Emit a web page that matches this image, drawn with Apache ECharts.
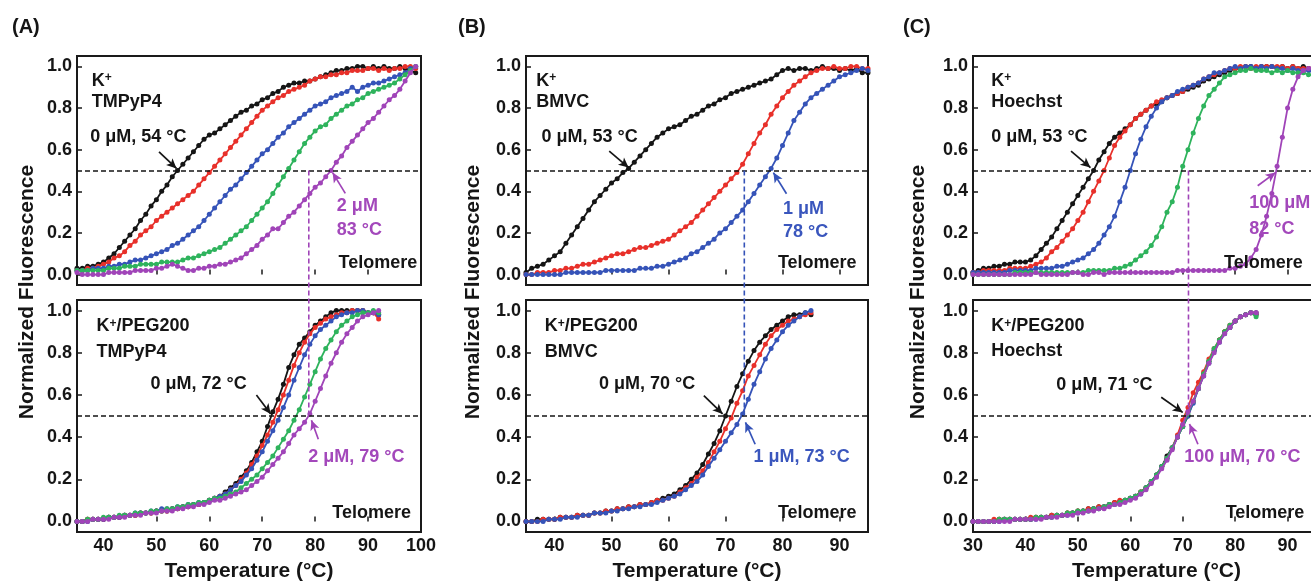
<!DOCTYPE html>
<html>
<head>
<meta charset="utf-8">
<script src="https://cdn.jsdelivr.net/npm/echarts@6/dist/echarts.min.js"></script>
<style>
  html, body { margin: 0; padding: 0; background: #fff; }
  #main { width: 1311px; height: 583px; }
</style>
</head>
<body>
<div id="main"></div>
<script>
// ---- temperatures (°C) ----
const tempA = [35,36,37,38,39,40,41,42,43,44,45,46,47,48,49,50,51,52,53,54,55,56,57,58,59,60,61,62,63,64,65,66,67,68,69,70,71,72,73,74,75,76,77,78,79,80,81,82,83,84,85,86,87,88,89,90,91,92,93,94,95,96,97,98,99];
const tempAPeg = [35,36,37,38,39,40,41,42,43,44,45,46,47,48,49,50,51,52,53,54,55,56,57,58,59,60,61,62,63,64,65,66,67,68,69,70,71,72,73,74,75,76,77,78,79,80,81,82,83,84,85,86,87,88,89,90,91,92];
const tempB = [35,36,37,38,39,40,41,42,43,44,45,46,47,48,49,50,51,52,53,54,55,56,57,58,59,60,61,62,63,64,65,66,67,68,69,70,71,72,73,74,75,76,77,78,79,80,81,82,83,84,85,86,87,88,89,90,91,92,93,94,95];
const tempBPeg = [35,36,37,38,39,40,41,42,43,44,45,46,47,48,49,50,51,52,53,54,55,56,57,58,59,60,61,62,63,64,65,66,67,68,69,70,71,72,73,74,75,76,77,78,79,80,81,82,83,84,85];
const tempC = [30,31,32,33,34,35,36,37,38,39,40,41,42,43,44,45,46,47,48,49,50,51,52,53,54,55,56,57,58,59,60,61,62,63,64,65,66,67,68,69,70,71,72,73,74,75,76,77,78,79,80,81,82,83,84,85,86,87,88,89,90,91,92,93,94,95];
const tempCPeg = [30,31,32,33,34,35,36,37,38,39,40,41,42,43,44,45,46,47,48,49,50,51,52,53,54,55,56,57,58,59,60,61,62,63,64,65,66,67,68,69,70,71,72,73,74,75,76,77,78,79,80,81,82,83,84];

// ---- (A) K+ / TMPyP4 ----
const aTopBlack = [0.03,0.03,0.04,0.04,0.05,0.06,0.08,0.10,0.13,0.16,0.19,0.22,0.26,0.29,0.33,0.36,0.40,0.43,0.47,0.50,0.53,0.56,0.59,0.62,0.65,0.67,0.68,0.70,0.72,0.74,0.76,0.78,0.79,0.81,0.82,0.84,0.85,0.87,0.88,0.90,0.91,0.92,0.92,0.93,0.93,0.94,0.95,0.96,0.97,0.98,0.98,0.99,0.99,1.00,1.00,0.99,1.00,0.99,1.00,0.99,0.99,1.00,0.99,0.98,0.97];
const aTopRed = [0.02,0.02,0.03,0.03,0.04,0.05,0.06,0.08,0.09,0.11,0.14,0.16,0.19,0.21,0.23,0.26,0.28,0.30,0.32,0.34,0.36,0.38,0.40,0.43,0.46,0.49,0.52,0.55,0.58,0.61,0.64,0.67,0.70,0.73,0.76,0.79,0.81,0.83,0.85,0.86,0.88,0.89,0.90,0.91,0.93,0.94,0.95,0.95,0.96,0.96,0.97,0.97,0.98,0.98,0.98,0.99,0.99,0.98,0.99,0.98,0.99,0.99,1.00,1.00,0.99];
const aTopBlue = [0.02,0.02,0.02,0.03,0.03,0.03,0.04,0.04,0.05,0.05,0.06,0.07,0.07,0.08,0.09,0.10,0.11,0.12,0.14,0.15,0.17,0.19,0.21,0.23,0.26,0.29,0.32,0.35,0.38,0.41,0.43,0.46,0.49,0.52,0.55,0.58,0.60,0.63,0.66,0.68,0.71,0.73,0.75,0.77,0.79,0.81,0.82,0.83,0.85,0.86,0.87,0.88,0.90,0.88,0.90,0.91,0.92,0.92,0.93,0.94,0.95,0.96,0.97,0.99,1.00];
const aTopGreen = [0.02,0.02,0.02,0.02,0.02,0.02,0.03,0.03,0.03,0.04,0.04,0.04,0.05,0.05,0.05,0.05,0.06,0.06,0.06,0.06,0.07,0.08,0.08,0.09,0.10,0.11,0.12,0.13,0.15,0.17,0.19,0.21,0.23,0.26,0.29,0.32,0.35,0.39,0.43,0.47,0.51,0.55,0.59,0.63,0.66,0.69,0.71,0.72,0.75,0.77,0.79,0.81,0.82,0.84,0.85,0.87,0.88,0.89,0.90,0.91,0.92,0.94,0.96,0.98,1.00];
const aTopPurple = [0.01,0.00,0.00,0.00,0.00,0.00,0.01,0.01,0.01,0.01,0.01,0.02,0.02,0.02,0.02,0.03,0.03,0.04,0.05,0.04,0.03,0.02,0.02,0.03,0.03,0.04,0.04,0.05,0.05,0.06,0.07,0.08,0.10,0.12,0.14,0.17,0.19,0.22,0.22,0.25,0.28,0.30,0.33,0.36,0.39,0.42,0.44,0.47,0.50,0.54,0.57,0.61,0.64,0.67,0.70,0.73,0.75,0.78,0.81,0.84,0.86,0.89,0.93,0.97,1.00];

// ---- (A) K+/PEG200 / TMPyP4 ----
const aPegBlack = [0.00,0.00,0.01,0.01,0.01,0.01,0.02,0.02,0.02,0.03,0.03,0.03,0.04,0.04,0.04,0.05,0.05,0.05,0.06,0.06,0.07,0.07,0.08,0.08,0.09,0.10,0.11,0.12,0.14,0.16,0.18,0.21,0.24,0.28,0.33,0.38,0.45,0.52,0.58,0.65,0.73,0.79,0.84,0.87,0.90,0.93,0.95,0.97,0.99,1.00,1.00,1.00,1.00,1.00,1.00,0.99,0.99,0.98];
const aPegRed = [0.00,0.00,0.01,0.01,0.01,0.01,0.02,0.02,0.02,0.03,0.03,0.03,0.04,0.04,0.04,0.05,0.05,0.05,0.06,0.06,0.07,0.07,0.08,0.08,0.09,0.10,0.11,0.12,0.13,0.15,0.17,0.20,0.23,0.27,0.31,0.36,0.41,0.47,0.53,0.60,0.67,0.74,0.80,0.85,0.89,0.92,0.94,0.96,0.97,0.98,0.99,0.99,1.00,1.00,1.00,0.99,0.99,0.96];
const aPegBlue = [0.00,0.00,0.00,0.01,0.01,0.01,0.02,0.02,0.02,0.03,0.03,0.04,0.04,0.04,0.05,0.05,0.06,0.06,0.06,0.07,0.07,0.08,0.08,0.09,0.09,0.10,0.11,0.12,0.13,0.15,0.17,0.19,0.22,0.25,0.29,0.33,0.38,0.43,0.48,0.54,0.60,0.67,0.73,0.79,0.84,0.88,0.91,0.93,0.95,0.97,0.98,0.99,0.99,1.00,1.00,0.99,0.99,0.98];
const aPegGreen = [0.00,0.00,0.01,0.01,0.01,0.02,0.02,0.02,0.03,0.03,0.03,0.04,0.04,0.04,0.05,0.05,0.05,0.06,0.06,0.07,0.07,0.08,0.08,0.09,0.09,0.10,0.11,0.11,0.12,0.13,0.14,0.16,0.18,0.20,0.22,0.25,0.28,0.31,0.35,0.39,0.43,0.48,0.53,0.59,0.65,0.71,0.77,0.82,0.86,0.90,0.93,0.95,0.97,0.98,0.99,0.99,1.00,0.99];
const aPegPurple = [0.00,0.00,0.00,0.01,0.01,0.01,0.01,0.02,0.02,0.02,0.03,0.03,0.03,0.04,0.04,0.04,0.05,0.05,0.05,0.06,0.06,0.07,0.07,0.08,0.08,0.09,0.10,0.10,0.11,0.12,0.13,0.14,0.15,0.17,0.19,0.21,0.24,0.27,0.30,0.33,0.37,0.41,0.44,0.47,0.51,0.57,0.63,0.69,0.75,0.80,0.85,0.89,0.92,0.95,0.97,0.98,0.99,1.00];

// ---- (B) K+ / BMVC ----
const bTopBlack = [0.01,0.03,0.04,0.05,0.07,0.09,0.11,0.15,0.19,0.23,0.27,0.31,0.35,0.38,0.41,0.44,0.46,0.49,0.51,0.54,0.57,0.60,0.63,0.66,0.68,0.70,0.71,0.72,0.74,0.76,0.77,0.79,0.81,0.82,0.84,0.85,0.87,0.88,0.89,0.90,0.91,0.92,0.93,0.94,0.96,0.98,0.99,0.98,0.99,0.99,0.98,0.99,1.00,0.99,0.99,0.98,0.99,0.98,0.99,0.97,0.97];
const bTopRed = [0.00,0.00,0.01,0.01,0.01,0.02,0.02,0.03,0.03,0.04,0.05,0.05,0.06,0.07,0.08,0.09,0.10,0.10,0.11,0.12,0.13,0.13,0.14,0.15,0.16,0.17,0.19,0.21,0.23,0.25,0.28,0.31,0.34,0.37,0.40,0.43,0.46,0.49,0.53,0.58,0.63,0.68,0.72,0.77,0.81,0.85,0.88,0.91,0.93,0.95,0.97,0.98,0.99,0.99,1.00,0.99,0.99,1.00,1.00,0.99,0.99];
const bTopBlue = [0.00,0.00,0.00,0.00,0.00,0.00,0.00,0.01,0.01,0.01,0.01,0.01,0.01,0.01,0.02,0.02,0.02,0.02,0.02,0.02,0.03,0.03,0.03,0.04,0.04,0.05,0.06,0.07,0.08,0.10,0.11,0.13,0.15,0.17,0.20,0.22,0.25,0.28,0.31,0.35,0.39,0.43,0.47,0.51,0.56,0.62,0.68,0.74,0.78,0.82,0.85,0.87,0.89,0.91,0.93,0.95,0.96,0.97,0.98,0.99,0.98];

// ---- (B) K+/PEG200 / BMVC ----
const bPegBlack = [0.00,0.00,0.01,0.01,0.01,0.01,0.02,0.02,0.02,0.03,0.03,0.03,0.04,0.04,0.05,0.05,0.06,0.06,0.07,0.07,0.08,0.08,0.09,0.10,0.11,0.12,0.13,0.15,0.17,0.20,0.23,0.27,0.32,0.37,0.43,0.50,0.57,0.64,0.70,0.76,0.81,0.85,0.88,0.91,0.93,0.95,0.97,0.98,0.98,0.99,0.98];
const bPegRed = [0.00,0.00,0.00,0.01,0.01,0.01,0.02,0.02,0.02,0.03,0.03,0.03,0.04,0.04,0.05,0.05,0.06,0.06,0.07,0.07,0.08,0.08,0.09,0.10,0.10,0.11,0.12,0.14,0.16,0.18,0.21,0.24,0.28,0.33,0.38,0.44,0.49,0.56,0.62,0.69,0.74,0.79,0.84,0.88,0.91,0.93,0.95,0.96,0.97,0.98,0.99];
const bPegBlue = [0.00,0.00,0.00,0.00,0.01,0.01,0.01,0.02,0.02,0.02,0.03,0.03,0.04,0.04,0.04,0.05,0.05,0.06,0.06,0.07,0.07,0.08,0.08,0.09,0.10,0.11,0.12,0.13,0.15,0.17,0.19,0.22,0.26,0.30,0.34,0.38,0.42,0.46,0.51,0.58,0.65,0.71,0.77,0.82,0.86,0.90,0.93,0.95,0.97,0.99,1.00];

// ---- (C) K+ / Hoechst ----
const cTopBlack = [0.01,0.02,0.03,0.03,0.04,0.04,0.05,0.05,0.06,0.06,0.06,0.07,0.09,0.12,0.15,0.18,0.22,0.26,0.30,0.34,0.38,0.42,0.46,0.50,0.55,0.59,0.63,0.66,0.68,0.70,0.72,0.75,0.77,0.79,0.81,0.82,0.83,0.85,0.86,0.87,0.88,0.89,0.90,0.91,0.93,0.94,0.95,0.96,0.97,0.98,0.99,0.99,1.00,1.00,0.99,1.00,1.00,1.00,0.99,1.00,0.99,1.00,0.99,1.00,0.99,0.99];
const cTopRed = [0.01,0.01,0.02,0.02,0.02,0.02,0.02,0.03,0.03,0.03,0.03,0.04,0.05,0.06,0.08,0.11,0.13,0.16,0.19,0.22,0.26,0.30,0.35,0.40,0.45,0.50,0.56,0.62,0.66,0.69,0.72,0.75,0.77,0.79,0.81,0.83,0.84,0.85,0.86,0.87,0.88,0.90,0.91,0.92,0.94,0.95,0.96,0.97,0.98,0.99,0.99,1.00,1.00,0.99,1.00,1.00,1.00,1.00,1.00,1.00,0.99,1.00,0.99,0.99,0.99,0.98];
const cTopBlue = [0.01,0.01,0.01,0.01,0.01,0.01,0.01,0.02,0.02,0.02,0.02,0.02,0.03,0.03,0.03,0.03,0.04,0.04,0.05,0.06,0.07,0.08,0.10,0.12,0.15,0.19,0.23,0.28,0.35,0.42,0.50,0.58,0.65,0.71,0.76,0.80,0.83,0.85,0.86,0.88,0.89,0.90,0.91,0.92,0.94,0.95,0.97,0.97,0.98,0.99,1.00,0.99,1.00,1.00,0.99,1.00,0.99,1.00,0.99,0.99,0.98,0.99,0.98,0.98,0.98,0.97];
const cTopGreen = [0.00,0.00,0.00,0.00,0.00,0.00,0.00,0.00,0.01,0.01,0.01,0.01,0.01,0.01,0.01,0.01,0.01,0.01,0.01,0.01,0.01,0.01,0.02,0.02,0.02,0.02,0.02,0.03,0.03,0.04,0.05,0.07,0.09,0.11,0.14,0.18,0.23,0.30,0.35,0.42,0.52,0.60,0.68,0.75,0.81,0.86,0.89,0.92,0.95,0.96,0.97,0.98,0.98,0.99,0.98,0.98,0.98,0.97,0.98,0.97,0.98,0.97,0.97,0.97,0.96,0.96];
const cTopPurple = [0.00,0.00,0.00,0.00,0.00,0.00,0.00,0.00,0.00,0.00,0.00,0.00,0.01,0.00,0.00,0.00,0.00,0.00,0.00,0.01,0.01,0.00,0.00,0.01,0.01,0.00,0.01,0.01,0.01,0.01,0.01,0.01,0.01,0.01,0.01,0.01,0.01,0.01,0.01,0.02,0.02,0.02,0.02,0.02,0.02,0.02,0.02,0.02,0.02,0.03,0.03,0.04,0.05,0.08,0.12,0.19,0.28,0.39,0.52,0.66,0.80,0.89,0.95,0.98,0.99,1.00];

// ---- (C) K+/PEG200 / Hoechst ----
const cPegBlack = [0.00,0.00,0.00,0.00,0.00,0.01,0.01,0.01,0.01,0.01,0.01,0.01,0.02,0.02,0.02,0.03,0.03,0.03,0.04,0.04,0.05,0.05,0.06,0.06,0.07,0.07,0.08,0.09,0.09,0.10,0.11,0.12,0.14,0.16,0.19,0.22,0.26,0.31,0.35,0.40,0.45,0.50,0.57,0.63,0.70,0.76,0.81,0.86,0.90,0.92,0.95,0.97,0.98,0.99,0.98];
const cPegRed = [0.00,0.00,0.00,0.00,0.01,0.01,0.01,0.01,0.01,0.01,0.01,0.02,0.02,0.02,0.02,0.03,0.03,0.03,0.04,0.04,0.05,0.05,0.06,0.06,0.07,0.07,0.08,0.09,0.10,0.10,0.11,0.12,0.14,0.16,0.19,0.22,0.26,0.30,0.35,0.41,0.48,0.54,0.61,0.66,0.71,0.77,0.82,0.86,0.90,0.93,0.95,0.97,0.98,0.99,0.99];
const cPegBlue = [0.00,0.00,0.00,0.00,0.00,0.00,0.01,0.01,0.01,0.01,0.01,0.01,0.01,0.02,0.02,0.02,0.03,0.03,0.03,0.04,0.04,0.05,0.05,0.06,0.06,0.07,0.08,0.08,0.09,0.10,0.11,0.12,0.13,0.16,0.19,0.22,0.26,0.30,0.35,0.40,0.45,0.50,0.56,0.63,0.69,0.75,0.81,0.85,0.89,0.92,0.95,0.97,0.98,0.99,0.99];
const cPegGreen = [0.00,0.00,0.00,0.00,0.00,0.01,0.01,0.01,0.01,0.01,0.01,0.01,0.02,0.02,0.02,0.02,0.03,0.03,0.04,0.04,0.05,0.05,0.05,0.06,0.06,0.07,0.08,0.08,0.09,0.10,0.11,0.12,0.14,0.16,0.19,0.22,0.26,0.30,0.35,0.40,0.45,0.51,0.57,0.63,0.70,0.76,0.82,0.86,0.90,0.93,0.95,0.97,0.98,0.99,0.97];
const cPegPurple = [0.00,0.00,0.00,0.00,0.00,0.00,0.00,0.00,0.01,0.01,0.01,0.01,0.01,0.01,0.02,0.02,0.02,0.03,0.03,0.03,0.04,0.04,0.05,0.05,0.06,0.06,0.07,0.08,0.08,0.09,0.10,0.11,0.13,0.15,0.18,0.21,0.25,0.29,0.34,0.40,0.46,0.52,0.57,0.63,0.69,0.75,0.80,0.85,0.89,0.92,0.95,0.97,0.98,0.99,0.99];

// ---- ticks ----
const yTicks = [0, 0.2, 0.4, 0.6, 0.8, 1.0];
const xTicksA = [40, 50, 60, 70, 80, 90, 100];
const xTicksB = [40, 50, 60, 70, 80, 90];
const xTicksC = [30, 40, 50, 60, 70, 80, 90, 100];

const COL = {
  black: '#151515',
  red: '#e8302a',
  blue: '#3553b8',
  green: '#2eb35c',
  purple: '#a044b8'
};
const TXT_BLUE = '#3a56bd';
const TXT_PURPLE = '#a348bb';
const FONT = '"Liberation Sans", Arial, Helvetica, sans-serif';

function pairs(temps, vals) {
  return temps.map((t, i) => [t, vals[i]]);
}

function curves(temps, list) {
  return list.map(([name, vals]) => ({ color: COL[name], data: pairs(temps, vals) }));
}

const TOP_Y = 56, TOP_H = 229, BOT_Y = 300, BOT_H = 232;

const panels = [
  {
    rect: { left: 77, top: TOP_Y, width: 344, height: TOP_H }, min: 35, max: 100, ticks: xTicksA, labels: false,
    lines: curves(tempA, [['black', aTopBlack], ['red', aTopRed], ['blue', aTopBlue], ['green', aTopGreen], ['purple', aTopPurple]]),
    arrows: [[[50.5, 0.59], [53.8, 0.51], COL.black], [[85.7, 0.39], [83.3, 0.49], COL.purple]],
    texts: [
      ['K{s|+}', 37.8, 0.93, COL.black, 'left'],
      ['TMPyP4', 37.8, 0.83, COL.black, 'left'],
      ['0 μM, 54 °C', 37.5, 0.66, COL.black, 'left'],
      ['2 μM', 84.1, 0.33, TXT_PURPLE, 'left'],
      ['83 °C', 84.1, 0.215, TXT_PURPLE, 'left'],
      ['Telomere', 99.3, 0.055, COL.black, 'right']
    ]
  },
  {
    rect: { left: 77, top: BOT_Y, width: 344, height: BOT_H }, min: 35, max: 100, ticks: xTicksA, labels: true,
    lines: curves(tempAPeg, [['black', aPegBlack], ['red', aPegRed], ['blue', aPegBlue], ['green', aPegGreen], ['purple', aPegPurple]]),
    arrows: [[[68.9, 0.60], [71.6, 0.51], COL.black], [[80.6, 0.39], [79.3, 0.48], COL.purple]],
    texts: [
      ['K{s|+}/PEG200', 38.7, 0.925, COL.black, 'left'],
      ['TMPyP4', 38.7, 0.805, COL.black, 'left'],
      ['0 μM, 72 °C', 48.9, 0.65, COL.black, 'left'],
      ['2 μM, 79 °C', 78.7, 0.307, TXT_PURPLE, 'left'],
      ['Telomere', 98.1, 0.04, COL.black, 'right']
    ]
  },
  {
    rect: { left: 526, top: TOP_Y, width: 342, height: TOP_H }, min: 35, max: 95, ticks: xTicksB, labels: false,
    lines: curves(tempB, [['black', bTopBlack], ['red', bTopRed], ['blue', bTopBlue]]),
    arrows: [[[49.6, 0.593], [53.0, 0.514], COL.black], [[80.7, 0.388], [78.4, 0.49], COL.blue]],
    texts: [
      ['K{s|+}', 36.8, 0.93, COL.black, 'left'],
      ['BMVC', 36.8, 0.83, COL.black, 'left'],
      ['0 μM, 53 °C', 37.7, 0.66, COL.black, 'left'],
      ['1 μM', 80.1, 0.316, TXT_BLUE, 'left'],
      ['78 °C', 80.1, 0.206, TXT_BLUE, 'left'],
      ['Telomere', 93.0, 0.055, COL.black, 'right']
    ]
  },
  {
    rect: { left: 526, top: BOT_Y, width: 342, height: BOT_H }, min: 35, max: 95, ticks: xTicksB, labels: true,
    lines: curves(tempBPeg, [['black', bPegBlack], ['red', bPegRed], ['blue', bPegBlue]]),
    arrows: [[[66.2, 0.597], [69.5, 0.51], COL.black], [[75.2, 0.366], [73.5, 0.47], COL.blue]],
    texts: [
      ['K{s|+}/PEG200', 38.3, 0.925, COL.black, 'left'],
      ['BMVC', 38.3, 0.805, COL.black, 'left'],
      ['0 μM, 70 °C', 47.8, 0.65, COL.black, 'left'],
      ['1 μM, 73 °C', 74.9, 0.307, TXT_BLUE, 'left'],
      ['Telomere', 93.0, 0.04, COL.black, 'right']
    ]
  },
  {
    rect: { left: 973, top: TOP_Y, width: 367, height: TOP_H }, min: 30, max: 100, ticks: xTicksC, labels: false,
    lines: curves(tempC, [['black', cTopBlack], ['red', cTopRed], ['blue', cTopBlue], ['green', cTopGreen], ['purple', cTopPurple]]),
    arrows: [[[84.3, 0.427], [87.7, 0.49], COL.purple], [[48.7, 0.593], [52.4, 0.514], COL.black]],
    texts: [
      ['K{s|+}', 33.5, 0.93, COL.black, 'left'],
      ['Hoechst', 33.5, 0.83, COL.black, 'left'],
      ['0 μM, 53 °C', 33.5, 0.66, COL.black, 'left'],
      ['100 μM', 82.7, 0.345, TXT_PURPLE, 'left'],
      ['82 °C', 82.7, 0.22, TXT_PURPLE, 'left'],
      ['Telomere', 92.9, 0.055, COL.black, 'right']
    ]
  },
  {
    rect: { left: 973, top: BOT_Y, width: 367, height: BOT_H }, min: 30, max: 100, ticks: xTicksC, labels: true,
    lines: curves(tempCPeg, [['black', cPegBlack], ['red', cPegRed], ['blue', cPegBlue], ['green', cPegGreen], ['purple', cPegPurple]]),
    arrows: [[[65.9, 0.589], [70.0, 0.517], COL.black], [[72.9, 0.366], [71.3, 0.462], COL.purple]],
    texts: [
      ['K{s|+}/PEG200', 33.5, 0.925, COL.black, 'left'],
      ['Hoechst', 33.5, 0.81, COL.black, 'left'],
      ['0 μM, 71 °C', 45.9, 0.645, COL.black, 'left'],
      ['100 μM, 70 °C', 70.3, 0.307, TXT_PURPLE, 'left'],
      ['Telomere', 93.2, 0.04, COL.black, 'right']
    ]
  }
];

// vertical connectors from the upper to the lower panel, at y = 0.5
const connectors = [
  { top: 0, bottom: 1, x: 78.8, color: COL.purple },
  { top: 2, bottom: 3, x: 73.3, color: COL.blue },
  { top: 4, bottom: 5, x: 71.1, color: COL.purple }
];

const labelFont = { fontFamily: FONT, fontWeight: 'bold', fontSize: 18, color: '#151515' };

const option = {
  animation: false,
  backgroundColor: '#ffffff',
  grid: [],
  xAxis: [],
  yAxis: [],
  series: []
};

panels.forEach((p, i) => {
  option.grid.push(Object.assign({
    show: true,
    borderColor: '#1a1a1a',
    borderWidth: 2,
    backgroundColor: 'transparent',
    containLabel: false,
    outerBoundsMode: 'none'
  }, p.rect));

  option.xAxis.push({
    gridIndex: i,
    type: 'value',
    min: p.min,
    max: p.max,
    axisLine: { show: false },
    splitLine: { show: false },
    axisTick: { show: true, inside: true, length: 5, customValues: p.ticks, lineStyle: { color: '#1a1a1a', width: 1.5 } },
    axisLabel: Object.assign({ show: p.labels, customValues: p.ticks, margin: 5, showMinLabel: true, showMaxLabel: true }, labelFont),
    name: p.labels ? 'Temperature (°C)' : '',
    nameLocation: 'middle',
    nameGap: 29,
    nameTextStyle: { fontFamily: FONT, fontWeight: 'bold', fontSize: 21, color: '#151515' }
  });

  option.yAxis.push({
    gridIndex: i,
    type: 'value',
    min: -0.05,
    max: 1.05,
    axisLine: { show: false },
    splitLine: { show: false },
    axisTick: { show: true, inside: true, length: 5, customValues: yTicks, lineStyle: { color: '#1a1a1a', width: 1.5 } },
    axisLabel: Object.assign({ customValues: yTicks, margin: 5, formatter: v => v.toFixed(1) }, labelFont)
  });

  p.lines.forEach((c, k) => {
    option.series.push({
      type: 'line',
      xAxisIndex: i,
      yAxisIndex: i,
      data: c.data,
      symbol: 'circle',
      symbolSize: 5,
      showSymbol: true,
      silent: true,
      z: 2 + k * 0.01,
      lineStyle: { color: c.color, width: 1.8 },
      itemStyle: { color: c.color }
    });
  });

  // annotation layer: 0.5 reference line and arrows
  const mlData = [
    { yAxis: 0.5, symbol: 'none', lineStyle: { type: [5, 3], color: '#151515', width: 1.5 } }
  ];
  p.arrows.forEach(([from, to, color]) => {
    mlData.push([
      { coord: from, symbol: 'none', lineStyle: { color: color, width: 1.7, type: 'solid' } },
      { coord: to, symbol: 'arrow', symbolSize: [7, 10] }
    ]);
  });
  option.series.push({
    type: 'line',
    xAxisIndex: i,
    yAxisIndex: i,
    data: [],
    silent: true,
    z: 5,
    markLine: {
      silent: true,
      animation: false,
      symbol: 'none',
      label: { show: false },
      emphasis: { disabled: true },
      data: mlData
    }
  });
});

const chart = echarts.init(document.getElementById('main'), null, { renderer: 'canvas' });
chart.setOption(option);

// text annotations and connectors placed through the axes' own scales
const px = (g, x, y) => chart.convertToPixel({ gridIndex: g }, [x, y]);
const sup = { fontFamily: FONT, fontWeight: 'bold', fontSize: 12, verticalAlign: 'top', lineHeight: 18 };
const graphics = [];

panels.forEach((p, i) => {
  p.texts.forEach(([text, x, y, color, align]) => {
    const pt = px(i, x, y);
    graphics.push({
      type: 'text',
      x: pt[0],
      y: pt[1],
      silent: true,
      z: 10,
      style: {
        text: text,
        fill: color,
        fontFamily: FONT,
        fontWeight: 'bold',
        fontSize: 18,
        align: align,
        verticalAlign: 'middle',
        rich: { s: Object.assign({ fill: color }, sup) }
      }
    });
  });
});

connectors.forEach(c => {
  const a = px(c.top, c.x, 0.5);
  const b = px(c.bottom, c.x, 0.5);
  graphics.push({
    type: 'line',
    silent: true,
    z: 6,
    shape: { x1: a[0], y1: a[1], x2: b[0], y2: b[1] },
    style: { stroke: c.color, lineWidth: 1.6, lineDash: [5, 3] }
  });
});

// panel letters and y-axis titles
[['(A)', 12, 27], ['(B)', 458, 27], ['(C)', 903, 27]].forEach(([t, x, y]) => {
  graphics.push({
    type: 'text', x: x, y: y, silent: true,
    style: { text: t, fill: '#151515', fontFamily: FONT, fontWeight: 'bold', fontSize: 20, align: 'left', verticalAlign: 'middle' }
  });
});
[27, 473, 918].forEach(x => {
  graphics.push({
    type: 'text', x: x, y: 292, rotation: Math.PI / 2, silent: true,
    style: { text: 'Normalized Fluorescence', fill: '#151515', fontFamily: FONT, fontWeight: 'bold', fontSize: 21, align: 'center', verticalAlign: 'middle' }
  });
});

chart.setOption({ graphic: graphics });
</script>
</body>
</html>
